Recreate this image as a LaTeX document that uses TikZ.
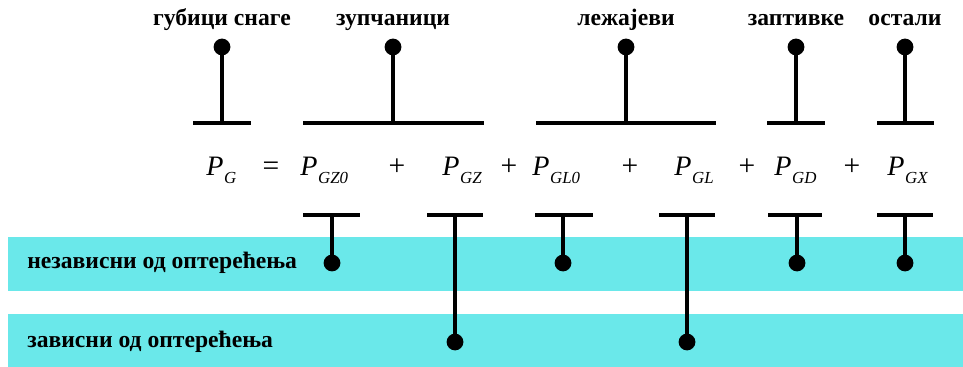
\documentclass[tikz,border=0pt]{standalone}
\usepackage{fontspec}
\setmainfont{Liberation Serif}
\usepackage{xcolor}
\usepackage{tikz}
\usetikzlibrary{positioning,calc}
\definecolor{bandcyan}{HTML}{6AE8EA}
\newcommand{\gterm}[1]{\textit{P}\kern0.5pt\raisebox{-5pt}{\fontsize{12}{12}\selectfont\textit{#1}}}

\begin{document}
\begin{tikzpicture}[x=0.025cm,y=-0.025cm,
  lbl/.style={font=\fontsize{16.8}{16.8}\selectfont\bfseries, inner sep=0pt},
  pinhead/.style={circle, fill=black, inner sep=0pt, minimum size=0.42cm},
  stem/.style={line width=2.6pt},
  bar/.style={line width=3pt},
  term/.style={font=\fontsize{20}{20}\selectfont, inner sep=0pt, anchor=base west},
  op/.style={font=\fontsize{21}{21}\selectfont, inner sep=0pt, anchor=base}]
\useasboundingbox (0,0) rectangle (963,367);
% bands
\fill[bandcyan] (8,237) rectangle (963,291);
\fill[bandcyan] (8,314) rectangle (963,367);
\node[lbl, anchor=base west] (indep) at (27,269) {независни од оптерећења};
\node[lbl, anchor=base west] (dep) at (27,348) {зависни од оптерећења};
% equation
\node[term] (pg) at (206,176) {\gterm{G}};
\node[op] (eq) at (271,176) {=};
\node[term] (pgz0) at (300,176) {\gterm{GZ0}};
\node[op] (p1) at (397,176) {+};
\node[term] (pgz) at (442,176) {\gterm{GZ}};
\node[op] (p2) at (509,176) {+};
\node[term] (pgl0) at (532,176) {\gterm{GL0}};
\node[op] (p3) at (630,176) {+};
\node[term] (pgl) at (674,176) {\gterm{GL}};
\node[op] (p4) at (747,176) {+};
\node[term] (pgd) at (774,176) {\gterm{GD}};
\node[op] (p5) at (852,176) {+};
\node[term] (pgx) at (887,176) {\gterm{GX}};
% top brackets
\foreach \n/\x/\xa/\xb/\txt in {gub/222/193/251/губици снаге, zup/393/303/484/зупчаници,
    lez/626/536/716/лежајеви, zap/796/767/825/заптивке, ost/905/877/934/остали} {
  \node[lbl, anchor=base] (t\n) at (\x,26) {\txt};
  \node[pinhead] (d\n) at (\x,47) {};
  \coordinate (c\n) at (\x,123);
  \draw[stem] (d\n.center) -- (c\n);
  \draw[bar] (\xa,123) -- (\xb,123);
}
% bottom brackets
\foreach \n/\x/\xa/\xb/\y in {gz0/332/303/360/263, gz/455/427/483/342, gl0/563/535/593/263,
    gl/687/659/715/342, gd/797/768/822/263, gx/905/877/933/263} {
  \coordinate (b\n) at (\x,215);
  \node[pinhead] (e\n) at (\x,\y) {};
  \draw[stem] (b\n) -- (e\n.center);
  \draw[bar] (\xa,215) -- (\xb,215);
}
\end{tikzpicture}
\end{document}
